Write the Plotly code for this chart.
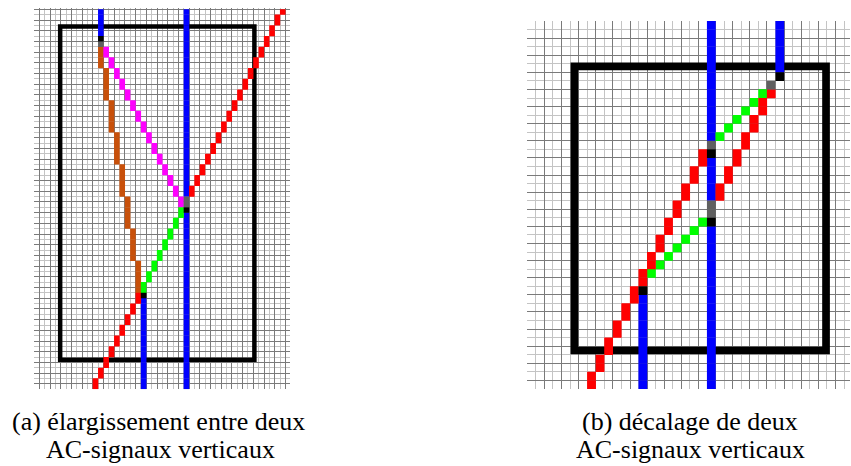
import plotly.graph_objects as go

# ---------------- data ----------------
# Each entry is a vertical run of coloured cells: (column, first row, last row)
# Panel (a): élargissement entre deux AC-signaux verticaux
a_blue = [(11, 0, 4), (19, 54, 70), (27, 0, 34), (27, 38, 70)]
a_black = [(11, 5, 5), (19, 53, 53), (27, 37, 37)]
a_gray = [(11, 6, 6), (27, 35, 36)]
a_brown = [(11, 7, 10), (12, 11, 16), (13, 17, 22), (14, 23, 28), (15, 29, 34),
           (16, 35, 40), (17, 41, 46), (18, 47, 52)]
a_magenta = [(12, 7, 8), (13, 9, 10), (14, 11, 12), (15, 13, 14), (16, 15, 16),
             (17, 17, 18), (18, 19, 20), (19, 21, 22), (20, 23, 24), (21, 25, 26),
             (22, 27, 28), (23, 29, 30), (24, 31, 32), (25, 33, 34), (26, 35, 36)]
a_green = [(19, 51, 52), (20, 49, 50), (21, 47, 48), (22, 45, 46), (23, 43, 44),
           (24, 41, 42), (25, 39, 40), (26, 37, 38)]
a_red = [(10, 69, 70), (11, 67, 68), (12, 65, 66), (13, 63, 64), (14, 61, 62),
         (15, 59, 60), (16, 57, 58), (17, 55, 56), (18, 53, 54),
         (28, 33, 34), (29, 31, 32), (30, 29, 30), (31, 27, 28), (32, 25, 26),
         (33, 23, 24), (34, 21, 22), (35, 19, 20), (36, 17, 18), (37, 15, 16),
         (38, 13, 14), (39, 11, 12), (40, 9, 10), (41, 7, 8), (42, 5, 6),
         (43, 3, 4), (44, 1, 2), (45, 0, 0)]
a_frame = [3.9, 3.2, 40.2, 65.5]          # x0, y0, x1, y1 in cell units
a_caption = ["(a) élargissement entre deux", "AC-signaux verticaux"]

# Panel (b): décalage de deux AC-signaux verticaux
b_blue = [(21, 0, 13), (21, 16, 20), (21, 24, 42), (29, 0, 5), (13, 32, 42)]
b_black = [(29, 6, 6), (21, 15, 15), (21, 23, 23), (13, 31, 31)]
b_gray = [(28, 7, 7), (21, 14, 14), (21, 21, 22)]
b_green = [(27, 8, 8), (26, 9, 9), (25, 10, 10), (24, 11, 11), (23, 12, 12), (22, 13, 13),
           (20, 23, 23), (19, 24, 24), (18, 25, 25), (17, 26, 26), (16, 27, 27),
           (15, 28, 28), (14, 29, 29)]
b_red = [(28, 8, 8), (27, 9, 10), (26, 11, 12), (25, 13, 14), (24, 15, 16),
         (23, 17, 18), (22, 19, 20),
         (20, 15, 16), (19, 17, 18), (18, 19, 20), (17, 21, 22), (16, 23, 24),
         (15, 25, 26), (14, 27, 28), (13, 29, 30), (12, 31, 32), (11, 33, 34),
         (10, 35, 36), (9, 37, 38), (8, 39, 40), (7, 41, 42)]
b_frame = [5.5, 5.3, 34.9, 38.5]
b_caption = ["(b) décalage de deux", "AC-signaux verticaux"]

COLORS = {
    "blue": "#0000ff", "black": "#000000", "gray": "#606060", "brown": "#c8500a",
    "magenta": "#ff00ff", "green": "#00ff00", "red": "#ff0000",
}

W, H = 851, 466


def cells(runs):
    xs, ys = [], []
    for c, r0, r1 in runs:
        for r in range(r0, r1 + 1):
            xs.append(c + 0.5)
            ys.append(r + 0.5)
    return xs, ys


fig = go.Figure()


def add_cells(runs, color, size, xa, ya):
    xs, ys = cells(runs)
    fig.add_trace(go.Scatter(
        x=xs, y=ys, mode="markers", xaxis=xa, yaxis=ya,
        marker=dict(symbol="square", size=size, color=COLORS[color], line=dict(width=0)),
        hoverinfo="skip", showlegend=False))


for runs, col in [(a_blue, "blue"), (a_brown, "brown"), (a_magenta, "magenta"),
                  (a_green, "green"), (a_red, "red"), (a_gray, "gray"), (a_black, "black")]:
    add_cells(runs, col, 5.6, "x", "y")

for runs, col in [(b_blue, "blue"), (b_green, "green"), (b_red, "red"),
                  (b_gray, "gray"), (b_black, "black")]:
    add_cells(runs, col, 8.8, "x2", "y2")


def axis(domain, rng):
    return dict(domain=domain, range=rng, dtick=2, tick0=0, showgrid=True,
                gridcolor="#7a7a7a", gridwidth=1,
                minor=dict(dtick=1, tick0=0, showgrid=True, gridcolor="#c4c4c4", gridwidth=1),
                showticklabels=False, ticks="", zeroline=False, showline=False,
                fixedrange=True)


fig.update_layout(
    width=W, height=H, margin=dict(l=0, r=0, t=0, b=0),
    paper_bgcolor="white", plot_bgcolor="white", showlegend=False,
    xaxis=axis([33.95 / W, 289.7 / W], [-1, 46.8]),
    yaxis=axis([1 - 389.2 / H, 1 - 8.0 / H], [71, -0.25]),
    xaxis2=axis([527.3 / W, 850.0 / W], [0, 37.7]),
    yaxis2=axis([1 - 389.0 / H, 1 - 21.0 / H], [43, 0]),
)

fig.add_shape(type="rect", xref="x", yref="y", x0=a_frame[0], y0=a_frame[1],
              x1=a_frame[2], y1=a_frame[3], line=dict(color="black", width=4.5),
              fillcolor="rgba(0,0,0,0)", layer="between")
fig.add_shape(type="rect", xref="x2", yref="y2", x0=b_frame[0], y0=b_frame[1],
              x1=b_frame[2], y1=b_frame[3], line=dict(color="black", width=7.7),
              fillcolor="rgba(0,0,0,0)", layer="between")

font = dict(family="Liberation Serif, Times New Roman, serif", size=26, color="black")
for text, px, py in [(a_caption[0], 158, 421), (a_caption[1], 160.5, 449),
                     (b_caption[0], 690, 421), (b_caption[1], 690, 449)]:
    fig.add_annotation(text=text, xref="paper", yref="paper", x=px / W, y=1 - py / H,
                       xanchor="center", yanchor="middle", showarrow=False, font=font)

fig.write_html("out.html", config={"displayModeBar": False},
               post_script="document.body.style.margin='0';document.body.style.overflow='hidden';")
